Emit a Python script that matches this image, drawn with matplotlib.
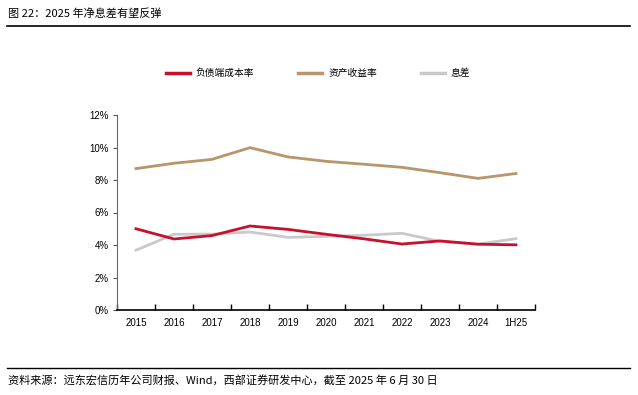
import matplotlib
matplotlib.use("Agg")
import matplotlib.pyplot as plt
from matplotlib.lines import Line2D
import numpy as np

plt.rcParams['font.family'] = ['Liberation Sans', 'Noto Sans CJK SC', 'DejaVu Sans']

categories = ["2015", "2016", "2017", "2018", "2019", "2020", "2021", "2022", "2023", "2024", "1H25"]
liability_cost = [5.00, 4.37, 4.58, 5.17, 4.96, 4.66, 4.38, 4.06, 4.25, 4.05, 4.01]
asset_yield = [8.70, 9.03, 9.27, 9.99, 9.42, 9.15, 8.97, 8.78, 8.45, 8.10, 8.40]
spread = [3.68, 4.66, 4.67, 4.80, 4.47, 4.53, 4.60, 4.72, 4.22, 4.05, 4.39]
series_names = ["负债端成本率", "资产收益率", "息差"]
yticks = [0, 2, 4, 6, 8, 10, 12]

c_red = "#C8102E"
c_tan = "#B8956A"
c_gray = "#C9C9C9"

W, H = 638, 395
fig = plt.figure(figsize=(W/100, H/100), dpi=100)
ax = fig.add_axes([117/W, 1-310/H, (535-117)/W, (310-115)/H])

x = np.arange(len(categories))
lw = 2.0
ax.plot(x, spread, color=c_gray, lw=lw, zorder=2)
ax.plot(x, asset_yield, color=c_tan, lw=lw, zorder=3)
ax.plot(x, liability_cost, color=c_red, lw=lw, zorder=4)

ax.set_xlim(-0.5, len(categories)-0.5)
ax.set_ylim(0, 12)
ax.set_yticks(yticks)
ax.set_yticklabels([f"{v}%" for v in yticks], fontsize=7)
ax.set_xticks(x)
ax.set_xticklabels(categories, fontsize=7)
ax.tick_params(axis='x', length=0, pad=6)
ax.set_xticks(np.arange(-0.5, len(categories)), minor=True)
ax.tick_params(axis='x', which='minor', direction='in', length=4, width=1, color='black')
ax.tick_params(axis='y', direction='out', length=3, width=0.8, color='#555555', pad=3)
for s in ['top', 'right']:
    ax.spines[s].set_visible(False)
ax.spines['left'].set_color('#666666')
ax.spines['left'].set_linewidth(0.8)
ax.spines['bottom'].set_color('black')
ax.spines['bottom'].set_linewidth(1.2)

handles = [Line2D([], [], color=c, lw=2.5) for c in (c_red, c_tan, c_gray)]
leg = fig.legend(handles, series_names, loc='center left', bbox_to_anchor=(157/W, 1-73/H),
                 ncol=3, frameon=False, handlelength=2.5, handletextpad=0.6,
                 columnspacing=4.5, prop={'family': ['Noto Sans CJK SC'], 'size': 7})

fig.text(8/W, 1-14/H, "图 22：2025 年净息差有望反弹", fontsize=8, va='center', ha='left',
         family=['Noto Sans CJK SC', 'DejaVu Sans'])
fig.add_artist(Line2D([7/W, 630/W], [1-26/H, 1-26/H], color='black', lw=1.2))
fig.add_artist(Line2D([7/W, 630/W], [1-368/H, 1-368/H], color='black', lw=1.0))
fig.text(8/W, 1-381/H, "资料来源：远东宏信历年公司财报、Wind，西部证券研发中心，截至 2025 年 6 月 30 日",
         fontsize=8, va='center', ha='left', family=['Noto Sans CJK SC', 'DejaVu Sans'])

fig.savefig("out.png", dpi=100)
